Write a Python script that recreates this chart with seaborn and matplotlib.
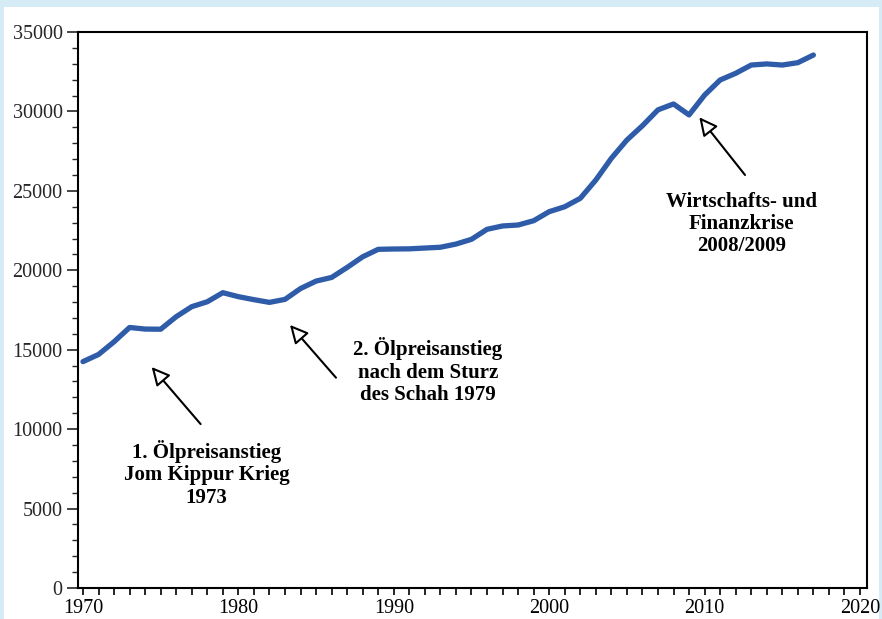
import matplotlib
matplotlib.use("Agg")
import matplotlib.pyplot as plt
from matplotlib.patches import Rectangle
from matplotlib.ticker import MultipleLocator
import seaborn as sns
import pandas as pd

# values
years = list(range(1970, 2018))
values = [14250, 14700, 15500, 16400, 16300, 16290, 17080, 17710, 18020, 18590,
          18340, 18150, 17980, 18170, 18850, 19320, 19550, 20180, 20850, 21320,
          21340, 21350, 21400, 21450, 21650, 21950, 22580, 22790, 22850, 23120,
          23690, 24000, 24530, 25680, 27050, 28200, 29100, 30100, 30470, 29780,
          31030, 31980, 32400, 32920, 32990, 32920, 33070, 33550]

notes = ["1. Ölpreisanstieg\nJom Kippur Krieg\n1973",
         "2. Ölpreisanstieg\nnach dem Sturz\ndes Schah 1979",
         "Wirtschafts- und\nFinanzkrise\n2008/2009"]
note_xy = [(1977.96, 7180), (1992.2, 13660), (2012.39, 22910)]
arrow_tips = [(1974.42, 13910), (1983.32, 16560), (2009.66, 29630)]
arrow_tails = [(1977.57, 10320), (1986.28, 13240), (2012.6, 26000)]

df = pd.DataFrame({"Jahr": years, "Wert": values})

sns.set_style("ticks")
plt.rcParams["font.family"] = ["Liberation Serif", "DejaVu Serif"]

fig = plt.figure(figsize=(8.82, 6.19), dpi=100)
fig.patch.set_facecolor("#d5ecf6")
fig.patches.append(Rectangle((4 / 882, 0), 875 / 882, 612 / 619,
                             transform=fig.transFigure, fc="white", ec="none", zorder=-1))
ax = fig.add_axes([78 / 882, 1 - 588 / 619, (867 - 78) / 882, (588 - 32) / 619])
ax.set_facecolor("white")

sns.lineplot(data=df, x="Jahr", y="Wert", ax=ax, color="#2e5ca8", linewidth=3.8)

ax.set_xlim(1969.68, 2020.45)
ax.set_ylim(0, 35000)
ax.xaxis.set_major_locator(MultipleLocator(10))
ax.xaxis.set_minor_locator(MultipleLocator(1))
ax.yaxis.set_major_locator(MultipleLocator(5000))
ax.yaxis.set_minor_locator(MultipleLocator(1000))
ax.set_xlabel("")
ax.set_ylabel("")

ax.tick_params(axis="x", which="both", length=5, width=1.2, labelsize=14.5, pad=3,
               direction="out", colors="black")
ax.tick_params(axis="y", which="major", length=8, width=1.2, labelsize=14.5, pad=3)
ax.tick_params(axis="y", which="minor", length=4, width=1.0)

for s in ax.spines.values():
    s.set_visible(True)
    s.set_linewidth(1.5)
    s.set_color("black")

for tip, tail in zip(arrow_tips, arrow_tails):
    ax.annotate("", xy=tip, xytext=tail,
                arrowprops=dict(arrowstyle="-|>,head_length=1.1,head_width=0.55",
                                fc="white", ec="black", lw=1.5, shrinkA=0, shrinkB=0))

for txt, (x, y) in zip(notes, note_xy):
    ax.text(x, y, txt, ha="center", va="center", fontsize=15, fontweight="bold",
            linespacing=1.15, color="black")

fig.savefig("out.png", dpi=100)
